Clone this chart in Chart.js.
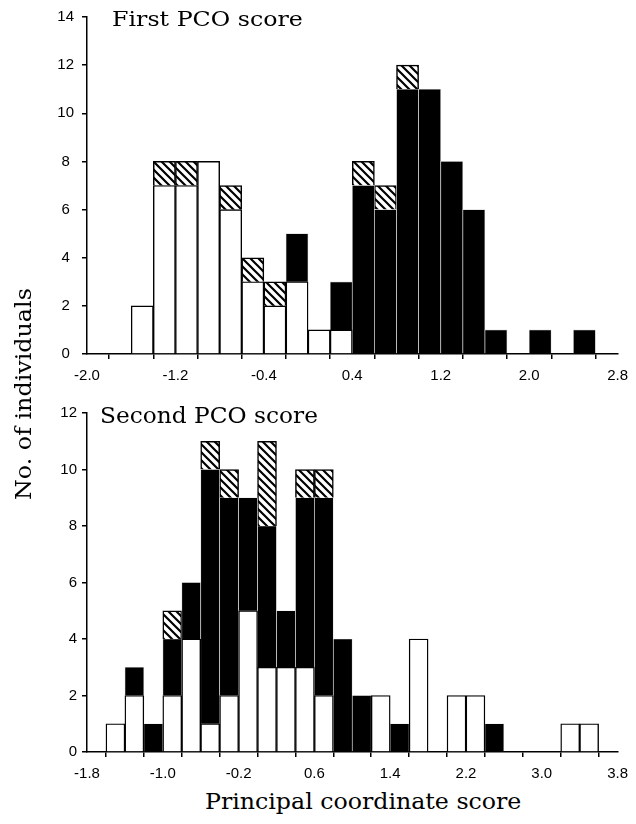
<!DOCTYPE html>
<html>
<head>
<meta charset="utf-8">
<script src="https://cdn.jsdelivr.net/npm/chart.js@4.4.1/dist/chart.umd.min.js"></script>
<style>
  html, body { margin: 0; padding: 0; background: #fff; }
  #page { position: relative; width: 636px; height: 824px; overflow: hidden; }
  canvas { position: absolute; left: 0; }
  .lbl { position: absolute; font-family: 'DejaVu Serif', serif; line-height: 1; white-space: nowrap; color: #000; transform-origin: 0 0; }
</style>
</head>
<body>
<div id="page">
  <canvas id="first" width="636" height="385" style="top:0"></canvas>
  <canvas id="second" width="636" height="388" style="top:395px"></canvas>
  <div class="lbl" id="title1" style="left:112px; top:9px; font-size:20px" data-w="191">First PCO score</div>
  <div class="lbl" id="title2" style="left:100px; top:405px; font-size:22px" data-w="218">Second PCO score</div>
  <div class="lbl" id="xTitle" style="left:205px; top:790px; font-size:23px" data-w="316">Principal coordinate score</div>
  <div class="lbl" id="yTitle" style="left:12px; top:500px; font-size:23px" data-w="212" data-rot="1">No. of individuals</div>
</div>
<script>
Chart.defaults.color = '#000';
Chart.defaults.font.family = '"Liberation Sans", Arial, sans-serif';
Chart.defaults.font.size = 15;

// first PCO score: bin centres (width 0.2) and counts per group
const pco1Centers = [-1.5, -1.3, -1.1, -0.9, -0.7, -0.5, -0.3, -0.1, 0.1, 0.3, 0.5,
                     0.7, 0.9, 1.1, 1.3, 1.5, 1.7, 1.9, 2.1, 2.3, 2.5];
const pco1White  = [2, 7, 7, 8, 6, 3, 2, 3, 1, 1, 0, 0, 0, 0, 0, 0, 0, 0, 0, 0, 0];
const pco1Black  = [0, 0, 0, 0, 0, 0, 0, 2, 0, 2, 7, 6, 11, 11, 8, 6, 1, 0, 1, 0, 1];
const pco1Hatch  = [0, 1, 1, 0, 1, 1, 1, 0, 0, 0, 1, 1, 1, 0, 0, 0, 0, 0, 0, 0, 0];
const pco1TickLabels = ['-2.0', '-1.2', '-0.4', '0.4', '1.2', '2.0', '2.8'];

// second PCO score
const pco2Centers = [-1.5, -1.3, -1.1, -0.9, -0.7, -0.5, -0.3, -0.1, 0.1, 0.3, 0.5, 0.7, 0.9,
                     1.1, 1.3, 1.5, 1.7, 1.9, 2.1, 2.3, 2.5, 2.7, 2.9, 3.1, 3.3, 3.5];
const pco2White  = [1, 2, 0, 2, 4, 1, 2, 5, 3, 3, 3, 2, 0, 0, 2, 0, 4, 0, 2, 2, 0, 0, 0, 0, 1, 1];
const pco2Black  = [0, 1, 1, 2, 2, 9, 7, 4, 5, 2, 6, 7, 4, 2, 0, 1, 0, 0, 0, 0, 1, 0, 0, 0, 0, 0];
const pco2Hatch  = [0, 0, 0, 1, 0, 1, 1, 0, 3, 0, 1, 1, 0, 0, 0, 0, 0, 0, 0, 0, 0, 0, 0, 0, 0, 0];
const pco2TickLabels = ['-1.8', '-1.0', '-0.2', '0.6', '1.4', '2.2', '3.0', '3.8'];

function hatchPattern() {
  const c = document.createElement('canvas');
  c.width = 8; c.height = 8;
  const g = c.getContext('2d');
  g.fillStyle = '#fff';
  g.fillRect(0, 0, 8, 8);
  g.strokeStyle = '#000';
  g.lineWidth = 2.2;
  g.beginPath();
  g.moveTo(-2, -2); g.lineTo(10, 10);
  g.moveTo(-2, 6); g.lineTo(2, 10);
  g.moveTo(6, -2); g.lineTo(10, 2);
  g.stroke();
  return g.createPattern(c, 'repeat');
}
const hatch = hatchPattern();

function points(centers, vals) {
  return centers.map((x, i) => ({ x: x, y: vals[i] ? vals[i] : null }));
}

function histo(id, centers, white, black, hatched, xMin, xMax, yMax, tickLabels, yAlign, yPad, topPad) {
  return new Chart(document.getElementById(id), {
    type: 'bar',
    data: {
      datasets: [
        { data: points(centers, white), backgroundColor: '#fff', borderColor: '#000', borderWidth: 1.4 },
        { data: points(centers, black), backgroundColor: '#000', borderColor: '#d4d4d4', borderWidth: 0.7 },
        { data: points(centers, hatched), backgroundColor: hatch, borderColor: '#000', borderWidth: 1.5 }
      ]
    },
    options: {
      responsive: false,
      animation: false,
      layout: { padding: { top: topPad, right: 13, left: 0, bottom: 0 } },
      datasets: { bar: { barPercentage: 1, categoryPercentage: 1, borderSkipped: 'start' } },
      plugins: { legend: { display: false }, tooltip: { enabled: false } },
      scales: {
        x: {
          type: 'linear', min: xMin, max: xMax, stacked: true, offset: false,
          ticks: {
            stepSize: 0.4, autoSkip: false, maxRotation: 0, padding: 8,
            callback: v => tickLabels.includes(v.toFixed(1)) ? v.toFixed(1) : ''
          },
          grid: { drawOnChartArea: false, tickLength: 5, color: '#000', lineWidth: 1.5 },
          border: { color: '#000', width: 1.5 },
          afterFit: s => { s.height = 31; }
        },
        y: {
          stacked: true, min: 0, max: yMax,
          ticks: { stepSize: 2, padding: yPad, crossAlign: yAlign },
          grid: { drawOnChartArea: false, tickLength: 5, color: '#000', lineWidth: 1.5 },
          border: { color: '#000', width: 1.5 },
          afterFit: s => { s.width = 87; }
        }
      }
    }
  });
}

histo('first', pco1Centers, pco1White, pco1Black, pco1Hatch, -2.0, 2.8, 14, pco1TickLabels, 'center', 8, 16);
histo('second', pco2Centers, pco2White, pco2Black, pco2Hatch, -1.8, 3.8, 12, pco2TickLabels, 'near', 5, 18);

// stretch the serif labels to the widths seen in the figure
document.querySelectorAll('.lbl').forEach(el => {
  const s = (+el.dataset.w) / el.offsetWidth;
  el.style.transform = (el.dataset.rot ? 'rotate(-90deg) ' : '') + 'scaleX(' + s.toFixed(3) + ')';
});
</script>
</body>
</html>
